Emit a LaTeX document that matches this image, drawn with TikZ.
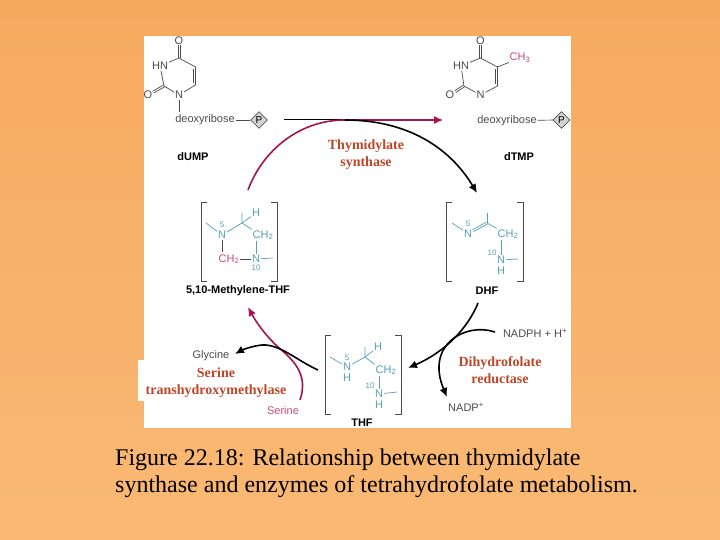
\documentclass[tikz,border=0pt]{standalone}
\usepackage{fontspec}
\setmainfont{Liberation Serif}
\setsansfont{Liberation Sans}
\usetikzlibrary{shapes.geometric,arrows.meta}
\definecolor{slideTop}{RGB}{246,170,96}
\definecolor{slideBot}{RGB}{249,185,116}
\definecolor{atomGrey}{RGB}{75,75,75}
\definecolor{ringBlue}{RGB}{85,160,185}
\definecolor{crimsonArc}{RGB}{165,20,80}
\definecolor{pinkAtom}{RGB}{200,75,125}
\definecolor{enzRed}{RGB}{190,70,40}

\begin{document}
\begin{tikzpicture}[
  x=1pt, y=-1pt,
  atom/.style={font=\sffamily\fontsize{11}{11}\selectfont, text=atomGrey, inner sep=0.8pt},
  num/.style={font=\sffamily\fontsize{8}{8}\selectfont, text=ringBlue, inner sep=0pt},
  blueatom/.style={atom, text=ringBlue},
  pinkatom/.style={atom, text=pinkAtom},
  cpd/.style={font=\sffamily\bfseries\fontsize{11}{11}\selectfont, text=black, inner sep=0pt},
  enz/.style={font=\bfseries\fontsize{14}{17}\selectfont, text=enzRed, align=center, inner sep=0pt},
  phos/.style={draw=black, diamond, fill=gray!35, font=\sffamily\fontsize{10}{10}\selectfont, inner sep=0.3pt, minimum size=17pt},
  bond/.style={draw=atomGrey, line width=0.7pt},
  bluebond/.style={draw=ringBlue, line width=0.7pt},
  bracket/.style={draw=atomGrey, line width=0.8pt},
  blackarc/.style={draw=black, line width=1.6pt, -{Latex[length=9pt,width=8pt]}},
  redarc/.style={draw=crimsonArc, line width=1.6pt, -{Latex[length=9pt,width=8pt]}}
]
\shade[top color=slideTop, bottom color=slideBot] (0,0) rectangle (720,540);
\fill[white] (144,36) rectangle (571,428);
\fill[white] (138,360) rectangle (290,401);

% dUMP
\node[atom] (uO4) at (179,40.5) {O};
\coordinate (uC4) at (179,58);
\coordinate (uC5) at (195.5,67);
\coordinate (uC6) at (195.5,85);
\node[atom] (uN1) at (179,95) {N};
\coordinate (uC2) at (164,86);
\node[atom] (uN3) at (160,66) {HN};
\node[atom] (uO2) at (148,95) {O};
\node[atom] (uSug) at (205,120) {deoxyribose};
\node[phos] (uP) at (259,120) {P};
\node[cpd] (dump) at (193,157) {dUMP};
\draw[bond, transform canvas={xshift=-1pt}] (uO4) -- (uC4);
\draw[bond, transform canvas={xshift=1pt}] (uO4) -- (uC4);
\draw[bond] (uC4) -- (uC5) -- (uC6) -- (uN1) -- (uC2) -- (uN3) -- (uC4);
\draw[bond] (193.5,69) -- (193.5,83);
\draw[bond, transform canvas={shift={(-0.5pt,0.9pt)}}] (uC2) -- (uO2);
\draw[bond, transform canvas={shift={(0.5pt,-0.9pt)}}] (uC2) -- (uO2);
\draw[bond] (uN1) -- (179,112);
\draw[bond] (uSug) -- (uP);

% dTMP
\node[atom] (tO4) at (480.5,40.5) {O};
\coordinate (tC4) at (480.5,58);
\coordinate (tC5) at (497.5,67);
\coordinate (tC6) at (497.5,86);
\node[atom] (tN1) at (480.5,95) {N};
\coordinate (tC2) at (464,86);
\node[atom] (tN3) at (461,66) {HN};
\node[atom] (tO2) at (450,95) {O};
\node[pinkatom] (tMe) at (520,58) {CH\textsubscript{3}};
\node[atom] (tSug) at (507,120.5) {deoxyribose};
\node[phos] (tP) at (561.5,120) {P};
\node[cpd] (dtmp) at (519,157) {dTMP};
\draw[bond, transform canvas={xshift=-1pt}] (tO4) -- (tC4);
\draw[bond, transform canvas={xshift=1pt}] (tO4) -- (tC4);
\draw[bond] (tC4) -- (tC5) -- (tC6) -- (tN1) -- (tC2) -- (tN3) -- (tC4);
\draw[bond] (495.5,69) -- (495.5,84);
\draw[bond, transform canvas={shift={(-0.5pt,0.9pt)}}] (tC2) -- (tO2);
\draw[bond, transform canvas={shift={(0.5pt,-0.9pt)}}] (tC2) -- (tO2);
\draw[bond] (tC5) -- (tMe);
\draw[bond] (tSug) -- (tP);

% 5,10-methylene-THF
\draw[bracket] (207,202) -- (201,202) -- (201,281) -- (207,281);
\draw[bracket] (271,202) -- (277,202) -- (277,281) -- (271,281);
\node[blueatom] (mN5) at (222,235) {N};
\node[num] (mFive) at (222,225) {5};
\coordinate (mLeft) at (206,223);
\coordinate (mC) at (242,223);
\coordinate (mUp) at (242,213);
\node[blueatom] (mH) at (256,213) {H};
\node[blueatom] (mCH) at (263,235) {CH\textsubscript{2}};
\node[blueatom] (mN10) at (256,259) {N};
\node[num] (mTen) at (256,268) {10};
\coordinate (mRight) at (273,258);
\node[pinkatom] (mCH2) at (229,259) {CH\textsubscript{2}};
\node[cpd] (mthf) at (238,291) {5,10-Methylene-THF};
\draw[bluebond] (mLeft) -- (mN5);
\draw[bluebond] (mN5) -- (mC) -- (mUp);
\draw[bluebond] (mC) -- (mH);
\draw[bluebond] (mC) -- (mCH.north west);
\draw[bluebond] (mCH.south west -| mN10) -- (mN10);
\draw[bluebond] (mN10) -- (mRight);
\draw[bond] (mN5) -- (222,252);
\draw[bond] (mCH2) -- (mN10);

% DHF
\draw[bracket] (452,202) -- (446,202) -- (446,281) -- (452,281);
\draw[bracket] (517,202) -- (523,202) -- (523,281) -- (517,281);
\node[blueatom] (dN5) at (468,233.5) {N};
\node[num] (dFive) at (468,224) {5};
\coordinate (dLeft) at (452,223);
\coordinate (dC) at (487,223);
\coordinate (dUp) at (487,213);
\node[blueatom] (dCH) at (508,234) {CH\textsubscript{2}};
\node[num] (dTen) at (492,253) {10};
\node[blueatom] (dN10) at (501,260) {N};
\node[blueatom] (dH) at (501,271) {H};
\coordinate (dRight) at (518,259);
\node[cpd] (dhf) at (487,291) {DHF};
\draw[bluebond] (dLeft) -- (dN5);
\draw[bluebond, transform canvas={shift={(-0.5pt,0.9pt)}}] (dN5) -- (dC);
\draw[bluebond, transform canvas={shift={(0.5pt,-0.9pt)}}] (dN5) -- (dC);
\draw[bluebond] (dC) -- (dUp);
\draw[bluebond] (dC) -- (dCH.north west);
\draw[bluebond] (dCH.south west -| dN10) -- (dN10);
\draw[bluebond] (dN10) -- (dRight);

% THF
\draw[bracket] (331,335) -- (325,335) -- (325,414) -- (331,414);
\draw[bracket] (395,335) -- (401,335) -- (401,414) -- (395,414);
\node[blueatom] (hN5) at (347,367) {N};
\node[num] (hFive) at (347,357.5) {5};
\node[blueatom] (hH5) at (347,378) {H};
\coordinate (hLeft) at (330,357);
\coordinate (hC) at (365,357);
\coordinate (hUp) at (365,347);
\node[blueatom] (hH) at (378,347) {H};
\node[blueatom] (hCH) at (386,370) {CH\textsubscript{2}};
\node[num] (hTen) at (370,386) {10};
\node[blueatom] (hN10) at (379,394) {N};
\node[blueatom] (hH10) at (379,405) {H};
\coordinate (hRight) at (397,392);
\node[cpd] (thf) at (362,423) {THF};
\draw[bluebond] (hLeft) -- (hN5);
\draw[bluebond] (hN5) -- (hC) -- (hUp);
\draw[bluebond] (hC) -- (hH);
\draw[bluebond] (hC) -- (hCH.north west);
\draw[bluebond] (hCH.south west -| hN10) -- (hN10);
\draw[bluebond] (hN10) -- (hRight);

% cofactors
\node[atom] (gly) at (211,356) {Glycine};
\node[pinkatom] (ser) at (283,411) {Serine};
\node[atom] (nadph) at (535,333) {NADPH + H\textsuperscript{+}};
\node[atom] (nadp) at (466,407) {NADP\textsuperscript{+}};

% cycle
\coordinate (topMerge) at (345,120);
\draw[black, line width=1pt] (284,120) -- (topMerge);
\draw[redarc, line width=1.2pt] (topMerge) -- (443,120);
\draw[redarc, -] (248,190) .. controls (262,152) and (298,120) .. (topMerge);
\draw[blackarc] (topMerge) .. controls (408,120) and (450,148) .. (477,193);
\coordinate (serFoot) at (300,400);
\coordinate (ltTip) at (248,307);
\draw[redarc] (serFoot) .. controls (308,376) and (296,362) .. (278,347) .. controls (266,336) and (256,322) .. (ltTip);
\coordinate (thfTail) at (318,370);
\draw[blackarc] (thfTail) .. controls (296,360) and (280,344) .. (262,345) .. controls (252,346) and (242,350) .. (235,354);
\coordinate (dhfTail) at (478,303);
\coordinate (rtTip) at (408,368);
\draw[blackarc] (dhfTail) .. controls (468,328) and (445,352) .. (rtTip);
\coordinate (nadphTail) at (495,332);
\coordinate (nadpTip) at (447,397);
\draw[blackarc] (nadphTail) .. controls (465,322) and (425,345) .. (nadpTip);

% enzymes
\node[enz] (tsyn) at (366,154.5) {Thymidylate\\synthase};
\node[enz] (dhfr) at (500,370) {Dihydrofolate\\reductase};
\node[enz] (shmt) at (216,382.5) {Serine\\transhydroxymethylase};

\node[font=\fontsize{24}{27}\selectfont, anchor=north west, align=left, inner sep=0pt] (caption) at (115,448.5) {Figure 22.18: Relationship between thymidylate\\synthase and enzymes of tetrahydrofolate metabolism.};
\end{tikzpicture}
\end{document}
